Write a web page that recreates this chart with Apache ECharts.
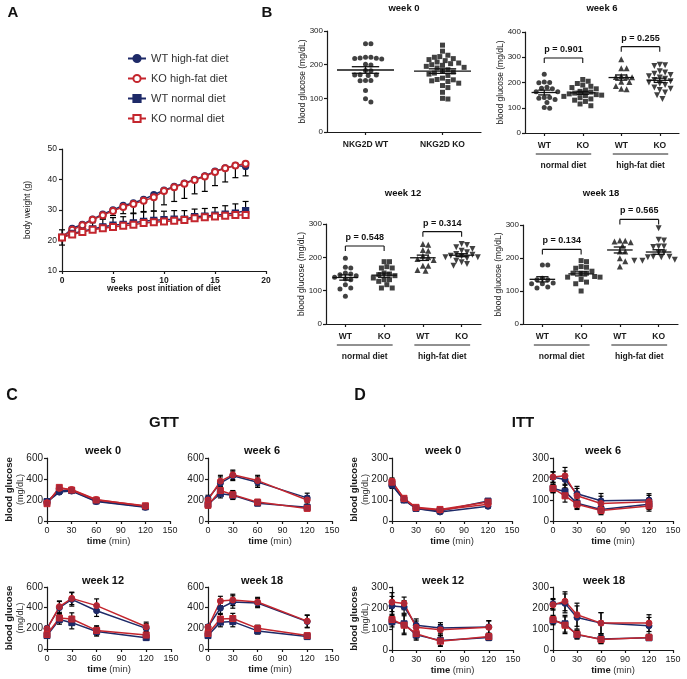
<!DOCTYPE html>
<html><head><meta charset="utf-8">
<script src="https://cdn.jsdelivr.net/npm/echarts@6/dist/echarts.min.js"></script>
<style>html,body{margin:0;padding:0;background:#fff}#c{width:687px;height:679px}</style>
</head><body><div id="c"></div>
<script>
const FONT = '"Liberation Sans", Arial, sans-serif';
const NAVY = '#1e2a68';
const RED = '#c4262e';
const KOFILL = '#a8283a';
const INK = '#1a1a1a';

// ---------- Panel A : body weight ----------
const weeks = [0,1,2,3,4,5,6,7,8,9,10,11,12,13,14,15,16,17,18];
const bwWtHF = [21.0,24.0,25.3,27.0,28.6,30.0,31.5,32.3,33.5,35.0,36.5,37.7,38.8,40.0,41.2,42.7,43.8,44.6,44.3];
const bwKoHF = [21.0,23.5,25.0,26.8,28.3,29.7,31.0,32.0,33.0,34.2,36.2,37.5,38.6,39.8,41.0,42.5,43.7,44.6,45.2];
const bwWtND = [21.0,22.3,23.0,23.8,24.5,25.0,25.3,25.8,26.3,26.6,26.8,27.0,27.0,27.8,28.0,28.3,28.6,29.0,29.8];
const bwKoND = [21.0,22.0,22.8,23.5,24.0,24.4,24.8,25.2,25.7,26.0,26.2,26.5,26.7,27.3,27.6,27.9,28.1,28.4,28.4];
const bwErrHF = [2.5,1,1,1,1.2,1.5,2.2,3,3.5,4.5,4.5,4.7,4.8,4.5,4.9,4.5,4.5,4,4];
const bwErrND = [2.5,1,1,2.5,2.5,2.5,2.5,3,3,3,2.8,2.8,2.8,2.5,2.5,2.5,2.8,3,3];
const legendNames = ['WT high-fat diet','KO high-fat diet','WT normal diet','KO normal diet'];

// ---------- Panel B : fasting blood glucose ----------
const b0Cats = ['NKG2D WT','NKG2D KO'];
const bCats = ['WT','KO','WT','KO'];
const dietLabels = ['normal diet','high-fat diet'];
const b0WT = [262,262,217,219,222,222,220,218,199,201,182,183,170,169,168,169,153,153,152,123,99,89];
const b0KO = [258,240,228,224,222,218,215,212,208,205,203,200,198,195,192,190,185,180,178,175,172,168,160,156,155,152,150,145,138,132,118,100,98];
const b6WTnd = [233,200,202,199,177,181,175,163,163,141,141,133,138,121,98,101];
const b6KOnd = [212,205,196,190,185,180,175,170,165,162,158,155,152,150,148,145,140,135,130,125,115,108];
const b6WThf = [292,256,256,226,223,221,222,203,202,186,173,175];
const b6KOhf = [270,268,265,245,240,235,230,225,220,215,210,205,200,195,190,180,175,170,160,150,135];
const b12WTnd = [197,168,170,153,148,145,133,135,118,108,105,83,140,150];
const b12KOnd = [187,187,172,168,168,153,148,150,138,133,133,118,108,108,145,128];
const b12WThf = [240,238,222,220,200,192,175,175,160,162,205,195];
const b12KOhf = [240,237,230,225,220,215,210,208,205,203,200,200,197,195,190,185,180,175];
const b18WTnd = [179,179,139,134,134,124,122,122,109,112];
const b18KOnd = [192,189,174,172,169,154,154,154,142,144,142,127,122,100,160,135];
const b18WThf = [248,252,253,250,237,220,220,199,174,190];
const b18KOhf = [290,255,253,235,235,233,217,217,202,204,204,202,192,192,192,195,190];
const pText6 = ['p = 0.901','p = 0.255'];
const pY6 = [297,342];
const pText12 = ['p = 0.548','p = 0.314'];
const pY12 = [234,277];
const pText18 = ['p = 0.134','p = 0.565'];
const pY18 = [226,317];

// ---------- Panels C / D : GTT and ITT ----------
const times = [0,15,30,60,120];
// order: WT high-fat, KO high-fat, WT normal, KO normal
const gtt0 = [[180,275,285,185,130],[175,310,300,205,140],[185,290,290,190,135],[165,320,295,200,145]];
const gtt0Err = [[20,20,15,15,10],[15,20,15,15,10],[20,20,15,15,10],[15,20,15,15,10]];
const gtt6 = [[215,360,430,370,220],[200,380,440,385,200],[160,260,245,170,130],[150,290,250,180,120]];
const gtt6Err = [[30,60,45,50,45],[25,55,45,50,40],[25,40,40,25,20],[25,40,40,25,20]];
const gtt12 = [[200,400,480,370,200],[195,410,490,420,215],[130,285,255,170,110],[140,300,290,180,135]];
const gtt12Err = [[20,60,65,55,45],[20,55,60,65,45],[25,45,60,45,25],[25,45,60,45,25]];
const gtt18 = [[215,395,455,445,265],[210,465,475,455,270],[130,260,265,175,120],[150,290,295,200,130]];
const gtt18Err = [[20,50,60,45,60],[20,45,55,45,60],[25,45,50,30,20],[25,45,50,30,20]];
const itt0 = [[170,100,60,43,70],[190,105,62,52,80],[175,100,60,48,95],[185,108,65,55,90]];
const itt0Err = [[15,10,8,8,10],[15,10,8,8,10],[15,10,8,8,10],[15,10,8,8,10]];
const itt6 = [[208,198,130,96,100],[210,215,120,83,92],[155,140,85,55,80],[155,120,80,50,72]];
const itt6Err = [[25,40,35,35,30],[25,40,35,35,30],[20,30,25,20,25],[20,30,25,20,25]];
const itt12 = [[210,205,118,105,110],[228,222,108,96,108],[135,125,72,45,60],[145,118,78,42,64]];
const itt12Err = [[45,30,30,25,30],[45,30,30,25,30],[25,45,25,25,15],[25,45,25,25,15]];
const itt18 = [[220,222,155,128,115],[215,232,168,128,128],[140,125,72,52,58],[145,118,75,50,60]];
const itt18Err = [[25,45,55,50,40],[25,45,55,50,40],[20,40,20,20,10],[20,40,20,20,10]];

// =================== build ===================
const grid = [], xAxis = [], yAxis = [], series = [], graphic = [];
const addGrid = g => (grid.push(g), grid.length - 1);
const addX = a => (xAxis.push(a), xAxis.length - 1);
const addY = a => (yAxis.push(a), yAxis.length - 1);
const lineSt = (w) => ({color: INK, width: w || 1.2});

function valAxis(o) {
  return {
    type: 'value', gridIndex: o.g, min: o.min, max: o.max, interval: o.interval,
    axisLine: {show: true, onZero: false, lineStyle: lineSt(o.lw)},
    axisTick: {show: true, length: o.tick || 3, lineStyle: lineSt(o.lw)},
    splitLine: {show: false},
    axisLabel: {color: INK, fontFamily: FONT, fontSize: o.fs || 9, fontWeight: o.fw || 'normal', margin: o.margin == null ? 4 : o.margin, showMinLabel: true, showMaxLabel: true},
    name: o.name || '', nameLocation: 'middle', nameGap: o.nameGap || 20, nameMoveOverlap: false,
    nameTextStyle: Object.assign({color: INK, fontFamily: FONT, fontSize: 9}, o.nameStyle || {})
  };
}

function errRender(cap) {
  return function (params, api) {
    const x = api.value(0), lo = api.value(1), hi = api.value(2), cLo = api.value(3), cHi = api.value(4);
    const a = api.coord([x, lo]), b = api.coord([x, hi]);
    const st = {stroke: '#000', lineWidth: 1.2};
    const ch = [{type: 'line', shape: {x1: a[0], y1: a[1], x2: b[0], y2: b[1]}, style: st}];
    if (cLo) ch.push({type: 'line', shape: {x1: a[0] - cap, y1: a[1], x2: a[0] + cap, y2: a[1]}, style: st});
    if (cHi) ch.push({type: 'line', shape: {x1: b[0] - cap, y1: b[1], x2: b[0] + cap, y2: b[1]}, style: st});
    return {type: 'group', children: ch};
  };
}

// ---------- Panel A ----------
{
  const g = addGrid({left: 62, top: 149, width: 204, height: 122});
  const xi = addX(valAxis({g, min: 0, max: 20, interval: 5, fw: 'bold', fs: 8.5, margin: 5,
    name: 'weeks  post initiation of diet', nameGap: 13, nameStyle: {fontWeight: 'bold', fontSize: 8.5}}));
  const yi = addY(valAxis({g, min: 10, max: 50, interval: 10, fs: 8.5, margin: 5,
    name: 'body weight (g)', nameGap: 30, nameStyle: {fontSize: 8.5}}));
  const errData = [];
  weeks.forEach((w, i) => {
    errData.push([w, bwKoHF[i] - bwErrHF[i], bwKoHF[i], 1, 0]);
    errData.push([w, bwWtND[i], bwWtND[i] + bwErrND[i], 0, 1]);
  });
  series.push({type: 'custom', xAxisIndex: xi, yAxisIndex: yi, renderItem: errRender(3), data: errData, z: 1, silent: true});
  const defs = [
    [legendNames[0], bwWtHF, 'circle', NAVY],
    [legendNames[1], bwKoHF, 'emptyCircle', RED],
    [legendNames[2], bwWtND, 'rect', NAVY],
    [legendNames[3], bwKoND, 'emptyRect', RED]
  ];
  defs.forEach(([name, vals, sym, col]) => {
    series.push({
      type: 'line', name, xAxisIndex: xi, yAxisIndex: yi, symbol: sym, symbolSize: 6,
      data: weeks.map((w, i) => [w, vals[i]]),
      lineStyle: {color: col, width: 1.5}, itemStyle: {color: col, borderColor: col, borderWidth: 1.3},
      z: 3, animation: false
    });
  });
}

// ---------- Panel B ----------
function swarm(values, cat, g, yMin, yMax, nCats, size) {
  const pxY = g.height / (yMax - yMin);
  const cw = g.width / nCats;
  const placed = [], out = [];
  const order = values.map((v, i) => i).sort((a, b) => values[b] - values[a]);
  const step = size * 0.5;
  order.forEach(i => {
    const py = (values[i] - yMin) * pxY;
    let off = 0;
    for (let k = 0; k < 80; k++) {
      const cand = (k % 2 === 1 ? 1 : -1) * Math.ceil(k / 2) * step;
      let ok = true;
      for (const p of placed) {
        const dx = cand - p[0], dy = py - p[1];
        if (dx * dx + dy * dy < size * size) { ok = false; break; }
      }
      if (ok) { off = cand; break; }
    }
    placed.push([off, py]);
    out.push([cat + 0.5 + off / cw, values[i]]);
  });
  return out;
}
function meanSem(v) {
  const n = v.length, m = v.reduce((a, b) => a + b, 0) / n;
  const sd = Math.sqrt(v.reduce((a, b) => a + (b - m) * (b - m), 0) / (n - 1));
  return [m, sd / Math.sqrt(n)];
}
function meanRender(hw) {
  return function (params, api) {
    const cx = api.value(0), m = api.value(1), s = api.value(2);
    const pl = api.coord([cx - hw, m]), pr = api.coord([cx + hw, m]);
    const pu = api.coord([cx, m + s]), pd = api.coord([cx, m - s]);
    const cap = (pr[0] - pl[0]) * 0.24;
    const st = {stroke: '#111', lineWidth: 1.3};
    return {type: 'group', children: [
      {type: 'line', shape: {x1: pl[0], y1: pl[1], x2: pr[0], y2: pr[1]}, style: st},
      {type: 'line', shape: {x1: pu[0], y1: pu[1], x2: pd[0], y2: pd[1]}, style: st},
      {type: 'line', shape: {x1: pu[0] - cap, y1: pu[1], x2: pu[0] + cap, y2: pu[1]}, style: st},
      {type: 'line', shape: {x1: pd[0] - cap, y1: pd[1], x2: pd[0] + cap, y2: pd[1]}, style: st}
    ]};
  };
}
function bracketRender(texts) {
  return function (params, api) {
    const x1 = api.value(0), x2 = api.value(1), y = api.value(2);
    const a = api.coord([x1, y]), b = api.coord([x2, y]);
    const st = {stroke: '#111', lineWidth: 1.1};
    const leg = 5;
    return {type: 'group', children: [
      {type: 'line', shape: {x1: a[0], y1: a[1], x2: b[0], y2: b[1]}, style: st},
      {type: 'line', shape: {x1: a[0], y1: a[1], x2: a[0], y2: a[1] + leg}, style: st},
      {type: 'line', shape: {x1: b[0], y1: b[1], x2: b[0], y2: b[1] + leg}, style: st},
      {type: 'text', x: (a[0] + b[0]) / 2, y: a[1] - 4, style: {text: texts[params.dataIndex], fill: '#111',
        fontFamily: FONT, fontSize: 9, fontWeight: 'bold', align: 'center', verticalAlign: 'bottom'}}
    ]};
  };
}
const DOWN_TRI = 'path://M0,0 L10,0 L5,9 Z';
function panelB(gdef, cats, groups, yMax, ySyms, pTexts, pYs, hw) {
  const g = addGrid(gdef);
  const n = cats.length;
  addX({type: 'category', gridIndex: g, data: cats, boundaryGap: true,
    axisLine: {show: true, onZero: false, lineStyle: lineSt(1.2)},
    axisTick: {show: true, alignWithLabel: true, length: 3, lineStyle: lineSt(1.2)},
    axisLabel: {color: INK, fontFamily: FONT, fontSize: 8.5, fontWeight: 'bold', margin: 8, interval: 0}});
  const xv = addX({type: 'value', gridIndex: g, min: 0, max: n, show: false});
  const yi = addY(valAxis({g, min: 0, max: yMax, interval: 100, fs: 8, margin: 4,
    name: 'blood glucose (mg/dL)', nameGap: 20, nameStyle: {fontSize: 8.5}}));
  const means = [];
  groups.forEach((vals, ci) => {
    const sym = ySyms[ci];
    const sz = (sym === 'circle' || sym === 'rect') ? 5 : 6;
    series.push({type: 'scatter', xAxisIndex: xv, yAxisIndex: yi, symbol: sym, symbolSize: sz,
      itemStyle: {color: '#111'}, data: swarm(vals, ci, gdef, 0, yMax, n, 5.4), z: 3, animation: false});
    const [m, s] = meanSem(vals);
    means.push([ci + 0.5, m, s]);
  });
  series.push({type: 'custom', xAxisIndex: xv, yAxisIndex: yi, renderItem: meanRender(hw), data: means, z: 4, silent: true});
  if (pTexts) {
    series.push({type: 'custom', xAxisIndex: xv, yAxisIndex: yi, renderItem: bracketRender(pTexts), clip: false,
      data: pYs.map((y, k) => [2 * k + 0.5, 2 * k + 1.5, y]), z: 4, silent: true});
    addX({type: 'category', gridIndex: g, data: dietLabels, position: 'bottom', offset: 20,
      axisLine: {show: false}, axisTick: {show: false},
      axisLabel: {color: INK, fontFamily: FONT, fontSize: 8.5, fontWeight: 'bold', margin: 8, interval: 0}});
    const cw = gdef.width / n;
    for (let k = 0; k < 2; k++) {
      const cx = gdef.left + (2 * k + 1) * cw;
      const y = gdef.top + gdef.height + 21;
      graphic.push({type: 'line', shape: {x1: cx - 0.72 * cw, y1: y, x2: cx + 0.72 * cw, y2: y}, style: {stroke: '#222', lineWidth: 1}});
    }
  }
}
panelB({left: 327, top: 31, width: 154, height: 101}, b0Cats, [b0WT, b0KO], 300, ['circle', 'rect'], null, null, 0.37);
panelB({left: 525, top: 32, width: 154, height: 101}, bCats, [b6WTnd, b6KOnd, b6WThf, b6KOhf], 400, ['circle', 'rect', 'triangle', DOWN_TRI], pText6, pY6, 0.33);
panelB({left: 326, top: 224, width: 155, height: 100}, bCats, [b12WTnd, b12KOnd, b12WThf, b12KOhf], 300, ['circle', 'rect', 'triangle', DOWN_TRI], pText12, pY12, 0.33);
panelB({left: 523, top: 225, width: 155, height: 99}, bCats, [b18WTnd, b18KOnd, b18WThf, b18KOhf], 300, ['circle', 'rect', 'triangle', DOWN_TRI], pText18, pY18, 0.33);

// ---------- Panels C / D ----------
function panelCurve(gdef, yMax, yInt, vals, errs, leftName) {
  const g = addGrid(gdef);
  const xi = addX(valAxis({g, min: 0, max: 150, interval: 30, fs: 9, margin: 5,
    name: '{b|time} {n|(min)}', nameGap: 15,
    nameStyle: {rich: {b: {fontFamily: FONT, fontSize: 9.5, fontWeight: 'bold', color: INK}, n: {fontFamily: FONT, fontSize: 9.5, color: '#333'}}}}));
  const yi = addY(valAxis({g, min: 0, max: yMax, interval: yInt, fs: 10, margin: 4,
    name: leftName ? '{b|blood glucose}\n{n|(mg/dL)}' : '', nameGap: 20,
    nameStyle: {lineHeight: 12, rich: {b: {fontFamily: FONT, fontSize: 9.5, fontWeight: 'bold', color: INK, lineHeight: 12}, n: {fontFamily: FONT, fontSize: 9, color: '#333', lineHeight: 12}}}}));
  const errData = [];
  vals.forEach((arr, si) => arr.forEach((v, ti) => errData.push([times[ti], v - errs[si][ti], v + errs[si][ti], 1, 1])));
  series.push({type: 'custom', xAxisIndex: xi, yAxisIndex: yi, renderItem: errRender(2.5), data: errData, z: 1, silent: true});
  const sty = [['circle', NAVY, NAVY], ['circle', RED, KOFILL], ['rect', NAVY, NAVY], ['rect', RED, KOFILL]];
  const order = [0, 2, 1, 3];
  order.forEach(si => {
    const [sym, col, fill] = sty[si];
    series.push({type: 'line', xAxisIndex: xi, yAxisIndex: yi, symbol: sym, symbolSize: 6,
      data: times.map((t, ti) => [t, vals[si][ti]]),
      lineStyle: {color: col, width: 1.5}, itemStyle: {color: fill, borderColor: col, borderWidth: 1},
      z: 3, animation: false});
  });
}
panelCurve({left: 47, top: 458, width: 123, height: 63}, 600, 200, gtt0, gtt0Err, true);
panelCurve({left: 208, top: 458, width: 124, height: 63}, 600, 200, gtt6, gtt6Err, false);
panelCurve({left: 47, top: 587, width: 124, height: 62}, 600, 200, gtt12, gtt12Err, true);
panelCurve({left: 208, top: 587, width: 124, height: 62}, 600, 200, gtt18, gtt18Err, false);
panelCurve({left: 392, top: 458, width: 120, height: 63}, 300, 100, itt0, itt0Err, true);
panelCurve({left: 553, top: 458, width: 120, height: 63}, 300, 100, itt6, itt6Err, false);
panelCurve({left: 392, top: 587, width: 121, height: 63}, 300, 100, itt12, itt12Err, true);
panelCurve({left: 553, top: 587, width: 120, height: 63}, 300, 100, itt18, itt18Err, false);

// ---------- texts ----------
const texts = [
  ['A', 13, 13, 15], ['B', 267, 13, 15], ['C', 12, 396, 16], ['D', 360, 396, 16],
  ['GTT', 164, 423, 15], ['ITT', 523, 423, 15],
  ['week 0', 404, 8, 9.5], ['week 6', 602, 8, 9.5], ['week 12', 403, 193, 9.5], ['week 18', 601, 193, 9.5],
  ['week 0', 103, 451, 11], ['week 6', 262, 451, 11], ['week 12', 103, 581, 11], ['week 18', 262, 581, 11],
  ['week 0', 443, 451, 11], ['week 6', 603, 451, 11], ['week 12', 443, 581, 11], ['week 18', 604, 581, 11]
];
texts.forEach(([t, x, y, fs]) => graphic.push({type: 'text', x, y,
  style: {text: t, fill: '#111', fontFamily: FONT, fontSize: fs, fontWeight: 'bold', align: 'center', verticalAlign: 'middle'}}));

const chart = echarts.init(document.getElementById('c'), null, {width: 687, height: 679});
chart.setOption({
  animation: false,
  backgroundColor: '#fff',
  textStyle: {fontFamily: FONT},
  legend: {show: true, data: legendNames, orient: 'vertical', left: 127, top: 53, padding: 0, itemGap: 9, itemWidth: 18, itemHeight: 9,
    textStyle: {fontFamily: FONT, fontSize: 11, color: '#333'}, selectedMode: false},
  grid, xAxis, yAxis, series, graphic
});
</script></body></html>
